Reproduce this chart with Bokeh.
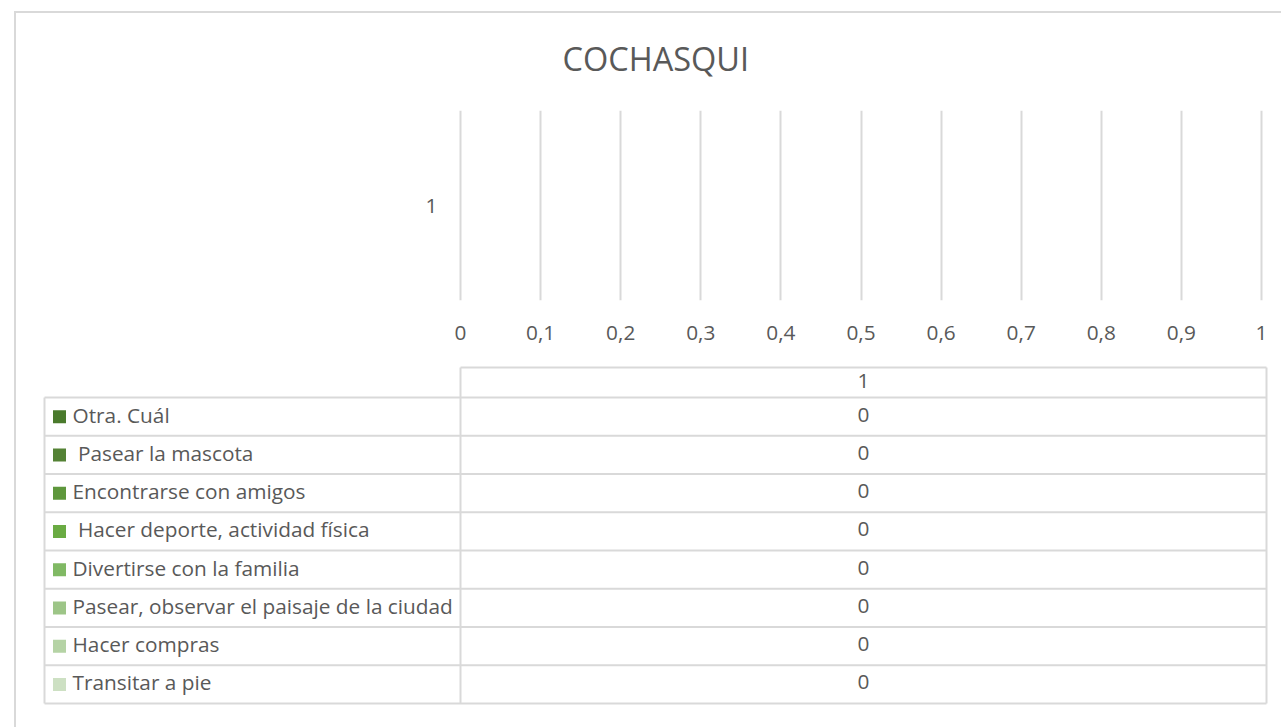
from bokeh.plotting import figure
from bokeh.layouts import column
from bokeh.models import (ColumnDataSource, FixedTicker, CustomJSTickFormatter,
                          Range1d, FactorRange)
from bokeh.embed import file_html
from bokeh.resources import INLINE
from bokeh.core.properties import value

# ---------------- data ----------------
title_text = "COCHASQUI"
categories = ["1"]
series = ["Otra. Cuál", " Pasear la mascota", "Encontrarse con amigos",
          " Hacer deporte, actividad física", "Divertirse con la familia",
          "Pasear, observar el paisaje de la ciudad", "Hacer compras",
          "Transitar a pie"]
series_values = [0, 0, 0, 0, 0, 0, 0, 0]
series_colors = ["#4a7a2c", "#548235", "#5e973c", "#6aab43",
                 "#80b964", "#9dc587", "#b5d3a5", "#cde0c3"]
x_ticks = [0, 0.1, 0.2, 0.3, 0.4, 0.5, 0.6, 0.7, 0.8, 0.9, 1]
x_tick_labels = ["0", "0,1", "0,2", "0,3", "0,4", "0,5", "0,6", "0,7",
                 "0,8", "0,9", "1"]

# ---------------- layout constants (pixels) ----------------
FONT = "Open Sans"
TXT = "#595959"
LINE = "#d9d9d9"
FS = "20.8px"
W, H = 1281, 727
H_TOP = 360
H_BOT = H - H_TOP
PLOT_L, PLOT_R = 460, 1261          # where 0 and 1 of the value axis sit
PLOT_T, PLOT_B = 110, 300           # gridline extent
px = PLOT_R - PLOT_L

# ---------------- chart ----------------
keys = [f"s{i}" for i in range(len(series))]
src = ColumnDataSource(dict(cat=categories,
                            **{k: [v] for k, v in zip(keys, series_values)}))

p = figure(width=W, height=H_TOP,
           x_range=Range1d(-PLOT_L / px, 1 + (W - PLOT_R) / px),
           y_range=FactorRange(factors=categories),
           output_backend="svg", toolbar_location=None,
           min_border_left=0, min_border_right=0,
           min_border_top=PLOT_T, min_border_bottom=H_TOP - PLOT_B)
p.hbar_stack(keys, y="cat", height=0.5, color=series_colors, source=src,
             line_color=None)

p.title.text = title_text
p.title.text_font = FONT
p.title.text_font_size = "32.5px"
p.title.text_font_style = "normal"
p.title.text_color = TXT
p.title.align = "left"
p.title.offset = 562
p.title.standoff = 60

p.outline_line_color = None
p.background_fill_color = None
p.border_fill_color = None

p.xgrid.ticker = FixedTicker(ticks=x_ticks)
p.xgrid.grid_line_color = LINE
p.xgrid.grid_line_width = 2
p.ygrid.grid_line_color = None
p.yaxis.visible = False

p.xaxis.ticker = FixedTicker(ticks=x_ticks)
p.xaxis.formatter = CustomJSTickFormatter(args=dict(tv=x_ticks, tl=x_tick_labels), code="""
for (let i = 0; i < tv.length; i++) { if (Math.abs(tick - tv[i]) < 1e-9) return tl[i]; }
return String(tick).replace('.', ',');
""")
p.xaxis.axis_line_color = None
p.xaxis.major_tick_line_color = None
p.xaxis.minor_tick_line_color = None
p.xaxis.major_label_text_font = FONT
p.xaxis.major_label_text_font_size = FS
p.xaxis.major_label_text_color = TXT
p.xaxis.major_label_standoff = 19

# category label of the value axis
p.text(x=[0] * len(categories), y=categories, text=categories, x_offset=-23,
       text_font=value(FONT), text_font_size=FS, text_color=TXT,
       text_align="right", text_baseline="middle")

# ---------------- data table ----------------
t = figure(width=W, height=H_BOT, x_range=Range1d(0, W), y_range=Range1d(H, H_TOP),
           output_backend="svg", toolbar_location=None,
           min_border=0, min_border_left=0, min_border_right=0,
           min_border_top=0, min_border_bottom=0)
t.xaxis.visible = False
t.yaxis.visible = False
t.grid.visible = False
t.outline_line_color = None
t.background_fill_color = None
t.border_fill_color = None

tab_left, tab_div, tab_right = 44, 460, 1266
head_top, head_bot = 367, 397
row_h = 38.25
n = len(series)
rows_bot = head_bot + n * row_h

# horizontal rules
hx0 = [tab_div] + [tab_left] * (n + 1)
hy = [head_top] + [head_bot + i * row_h for i in range(n + 1)]
hx1 = [tab_right] * (n + 2)
t.segment(x0=hx0, y0=hy, x1=hx1, y1=hy, line_color=LINE, line_width=2)
# vertical rules
t.segment(x0=[tab_left, tab_div, tab_right], y0=[head_bot, head_top, head_top],
          x1=[tab_left, tab_div, tab_right], y1=[rows_bot] * 3,
          line_color=LINE, line_width=2)

row_c = [head_bot + (i + 0.5) * row_h for i in range(n)]
col_c = (tab_div + tab_right) / 2

t.text(x=[col_c] * len(categories), y=[(head_top + head_bot) / 2], text=categories,
       y_offset=-2, text_font=value(FONT), text_font_size=FS, text_color=TXT,
       text_align="center", text_baseline="middle")
t.rect(x=[59] * n, y=row_c, width=13, height=13, fill_color=series_colors,
       line_color=None)
t.text(x=[72] * n, y=row_c,
       text=["\u00a0" + s[1:] if s.startswith(" ") else s for s in series],
       y_offset=-2, text_font=value(FONT), text_font_size=FS, text_color=TXT,
       text_align="left", text_baseline="middle")
t.text(x=[col_c] * n, y=row_c, text=[str(v) for v in series_values],
       y_offset=-2, text_font=value(FONT), text_font_size=FS, text_color=TXT,
       text_align="center", text_baseline="middle")

# chart-area border (left and top edges; the rest lies beyond the window)
border_css = """
:host { position: relative; background: white; }
:host::after { content: ""; position: absolute; left: 14px; top: 11px;
  width: 1267px; height: 716px; box-sizing: border-box;
  border-left: 2px solid #d9d9d9; border-top: 2px solid #d9d9d9;
  pointer-events: none; z-index: 5; }
"""
layout = column(p, t, spacing=0, stylesheets=[border_css])
open("out.html", "w").write(file_html(layout, INLINE))
